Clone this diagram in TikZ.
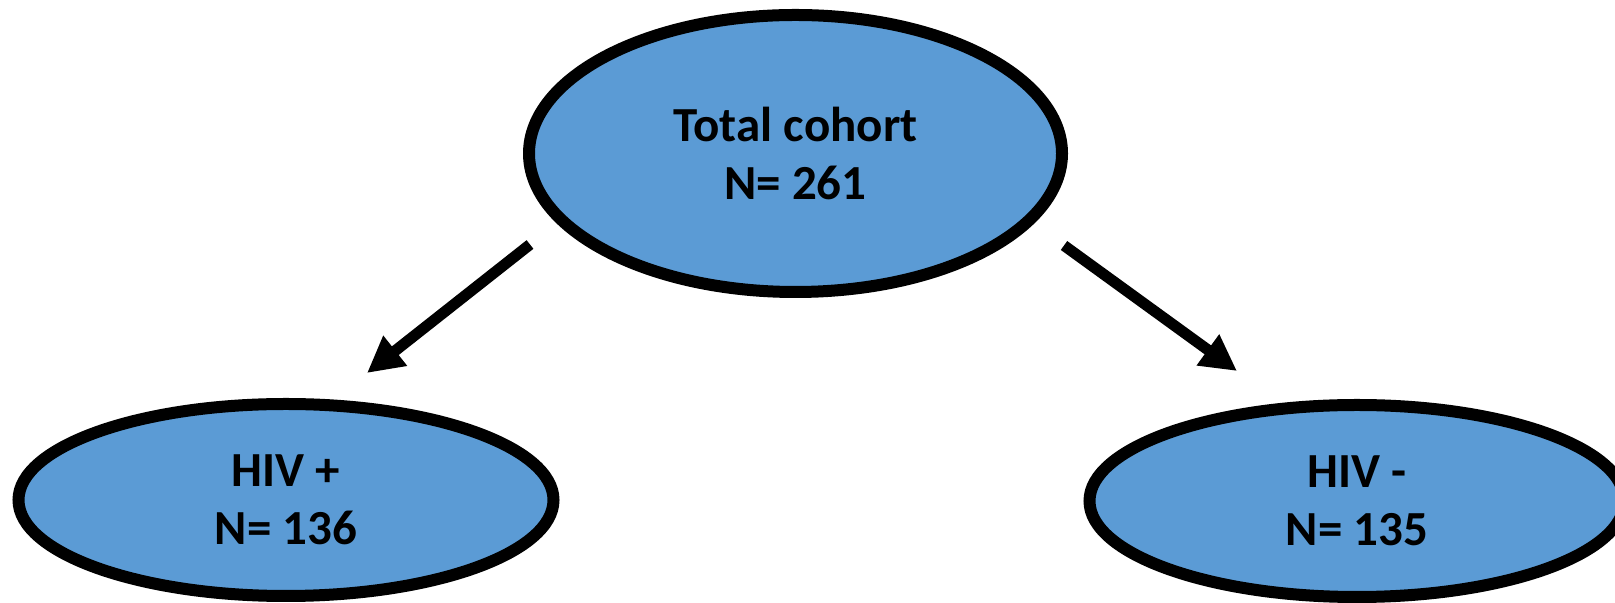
\documentclass[tikz,border=0pt]{standalone}
\usepackage{fontspec}
\setmainfont{Carlito}
\usetikzlibrary{shapes.geometric,arrows.meta}
\definecolor{groupblue}{HTML}{5B9BD5}
\tikzset{
  group/.style={ellipse, draw=black, line width=12bp, fill=groupblue,
    inner sep=0pt, align=center,
    font=\fontsize{49bp}{58bp}\selectfont\bfseries},
  flow/.style={line width=11bp, -{Triangle[length=36bp,width=36bp]}}
}
\begin{document}
\begin{tikzpicture}[x=1bp,y=1bp]
  \useasboundingbox (0,0) rectangle (1615,603);
  % cohort and its two groups
  \node[group, minimum width=533bp, minimum height=277bp] (top) at (795.5,449.5) {Total cohort\\N= 261};
  \node[group, minimum width=535bp, minimum height=192bp] (hivpos) at (286,103) {HIV +\\N= 136};
  \node[group, minimum width=535bp, minimum height=192bp] (hivneg) at (1357,102) {HIV -\\N= 135};
  % arrow ends, placed relative to the nodes
  \coordinate (a1) at ([shift={(-265.5,-91)}]top.center);
  \coordinate (b1) at ([shift={(81,127)}]hivpos.center);
  \coordinate (a2) at ([shift={(268.5,-92)}]top.center);
  \coordinate (b2) at ([shift={(-120,130)}]hivneg.center);
  \draw[flow] (a1) -- (b1);
  \draw[flow] (a2) -- (b2);
\end{tikzpicture}
\end{document}
